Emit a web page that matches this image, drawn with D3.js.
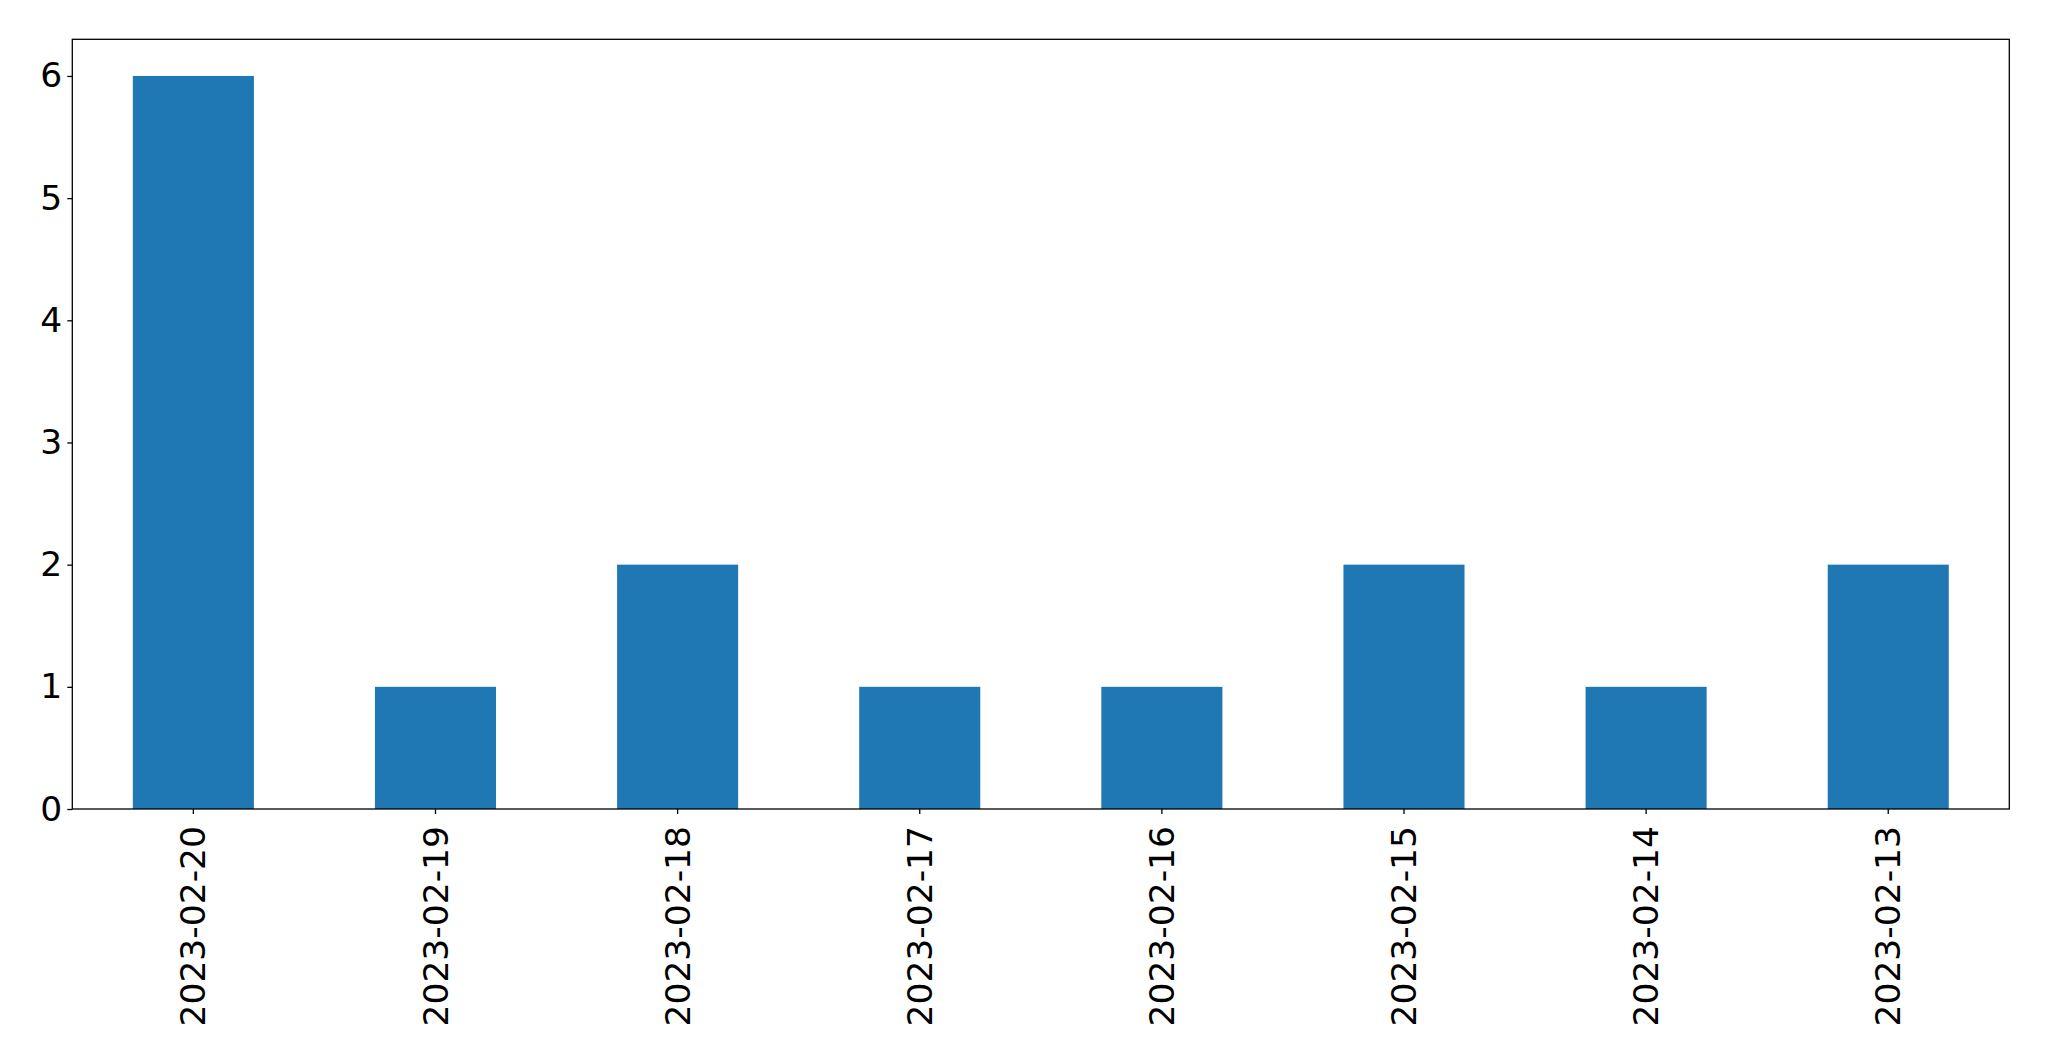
<!DOCTYPE html>
<html><head><meta charset="utf-8">
<script src="https://cdn.jsdelivr.net/npm/d3@7"></script>
<style>body{margin:0;background:#fff;} svg{display:block;}</style>
</head><body>
<script>
const categories = ["2023-02-20","2023-02-19","2023-02-18","2023-02-17","2023-02-16","2023-02-15","2023-02-14","2023-02-13"];
const values = [6,1,2,1,1,2,1,2];
const yTicks = [0,1,2,3,4,5,6];

const W = 2049, H = 1061;
const m = {left:72.3, right:W-2009.3, top:39.3, bottom:H-809};
const svg = d3.select("body").append("svg").attr("width",W).attr("height",H);
const x = d3.scaleBand().domain(categories).range([m.left, W-m.right]).paddingInner(0.5).paddingOuter(0.25);
const y = d3.scaleLinear().domain([0, 6.3]).range([H-m.bottom, m.top]);

svg.selectAll("rect.bar").data(values).join("rect").attr("class","bar")
  .attr("x",(d,i)=>x(categories[i])).attr("width",x.bandwidth())
  .attr("y",d=>y(d)).attr("height",d=>y(0)-y(d)).attr("fill","#1f77b4");

const font = "DejaVu Sans";
const yAxis = svg.append("g").attr("transform",`translate(${m.left},0)`)
  .call(d3.axisLeft(y).tickValues(yTicks).tickFormat(d3.format("d")).tickSize(5).tickPadding(5));
const xAxis = svg.append("g").attr("transform",`translate(0,${H-m.bottom})`)
  .call(d3.axisBottom(x).tickSize(5).tickPadding(0));
[yAxis,xAxis].forEach(g=>{
  g.select(".domain").remove();
  g.selectAll("line").attr("stroke","#000").attr("stroke-width",1.3);
  g.selectAll("text").attr("font-family",font).attr("font-size",34.5).attr("fill","#000");
});
xAxis.selectAll("text").attr("transform","rotate(-90)").attr("text-anchor","end")
  .attr("dy","0.35em").attr("x",-17).attr("y",0);

svg.append("rect").attr("x",m.left).attr("y",m.top).attr("width",W-m.right-m.left).attr("height",H-m.bottom-m.top)
  .attr("fill","none").attr("stroke","#000").attr("stroke-width",1.3);
</script>
</body></html>
